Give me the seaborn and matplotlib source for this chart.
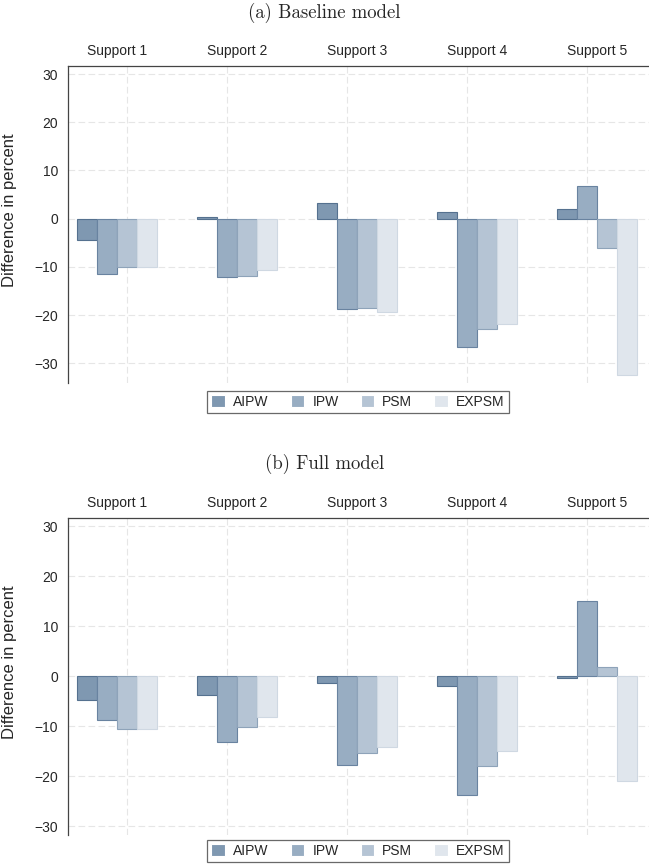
import pandas as pd
import matplotlib.pyplot as plt
import numpy as np
import seaborn as sns

supports = ["Support 1", "Support 2", "Support 3", "Support 4", "Support 5"]
methods = ["AIPW", "IPW", "PSM", "EXPSM"]

# values per method, one entry per support level
baseline_aipw = [-4.5, 0.3, 3.3, 1.3, 2.0]
baseline_ipw = [-11.5, -12.1, -18.8, -26.6, 6.7]
baseline_psm = [-10.1, -11.8, -18.5, -22.8, -6.1]
baseline_expsm = [-10.1, -10.6, -19.4, -21.9, -32.5]

full_aipw = [-4.7, -3.7, -1.4, -1.9, -0.3]
full_ipw = [-8.7, -13.2, -17.7, -23.7, 15.0]
full_psm = [-10.5, -10.2, -15.3, -17.9, 1.8]
full_expsm = [-10.5, -8.1, -14.1, -14.9, -20.9]

fills = ["#7f98b1", "#98adc2", "#b5c4d4", "#e0e6ed"]
edges = ["#55718f", "#6983a0", "#8ea3b9", "#cfd8e2"]

sns.set_style("white")
plt.rcParams["font.family"] = ["Liberation Sans", "DejaVu Sans"]


def make_frame(series):
    rows = []
    for m, vals in zip(methods, series):
        for s, v in zip(supports, vals):
            rows.append({"support": s, "method": m, "value": v})
    return pd.DataFrame(rows)


baseline = make_frame([baseline_aipw, baseline_ipw, baseline_psm, baseline_expsm])
full = make_frame([full_aipw, full_ipw, full_psm, full_expsm])

W, H = 649, 867
fig = plt.figure(figsize=(W / 100, H / 100), dpi=100)


def panel(df, top_px, bottom_px, ylim, title, title_y, legend_y):
    ax = fig.add_axes([67.7 / W, 1 - bottom_px / H, 1 - 67.7 / W, (bottom_px - top_px) / H])
    sns.barplot(data=df, x="support", y="value", hue="method", hue_order=methods,
                palette=fills, saturation=1, width=2 / 3, linewidth=0.8, ax=ax)
    for cont, ec in zip(ax.containers, edges):
        for p in cont:
            p.set_edgecolor(ec)
    handles, labels = ax.get_legend_handles_labels()
    ax.get_legend().remove()

    ax.set_xlim(-0.41, 4.433)
    ax.set_ylim(*ylim)
    ax.set_yticks(np.arange(-30, 31, 10))
    ax.set_xlabel("")
    ax.set_ylabel("Difference in percent", fontsize=12)
    ax.yaxis.set_label_coords(-0.087, 0.546)

    # category labels on top, like facet headers
    ax.xaxis.tick_top()
    ax.tick_params(axis="x", which="major", length=0, pad=6, labelsize=10)
    ax.tick_params(axis="y", length=5, width=0.8, color="#444444", labelsize=10, pad=2)
    ax.set_xticks([1 / 12, 11 / 12, 23 / 12, 35 / 12, 47 / 12], minor=True)
    ax.tick_params(axis="x", which="minor", length=0)

    ax.grid(axis="y", which="major", color="#e6e6e6", linestyle=(0, (6, 3)), linewidth=0.8)
    ax.grid(axis="x", which="minor", color="#e6e6e6", linestyle=(0, (6, 3)), linewidth=0.8)
    ax.grid(axis="x", which="major", visible=False)
    ax.set_axisbelow(True)

    for side in ["right", "bottom"]:
        ax.spines[side].set_visible(False)
    for side in ["left", "top"]:
        ax.spines[side].set_color("#444444")
        ax.spines[side].set_linewidth(0.9)

    fig.text(0.5, 1 - title_y / H, title, ha="center", va="center",
             family="cmr10", fontsize=13.5)
    leg = fig.legend(handles, labels, loc="center", ncol=4,
                     bbox_to_anchor=(358 / W, 1 - legend_y / H), fontsize=10,
                     frameon=True, fancybox=False, handlelength=0.95, handleheight=0.95,
                     handletextpad=0.6, columnspacing=1.6, borderpad=0.3)
    leg.get_frame().set_edgecolor("#444444")
    leg.get_frame().set_linewidth(0.9)
    return ax


panel(baseline, 66, 383, (-34.1, 31.66), "(a) Baseline model", 13, 402)
panel(full, 518, 835, (-31.8, 31.6), "(b) Full model", 464, 851)

fig.savefig("out.png", dpi=100)
